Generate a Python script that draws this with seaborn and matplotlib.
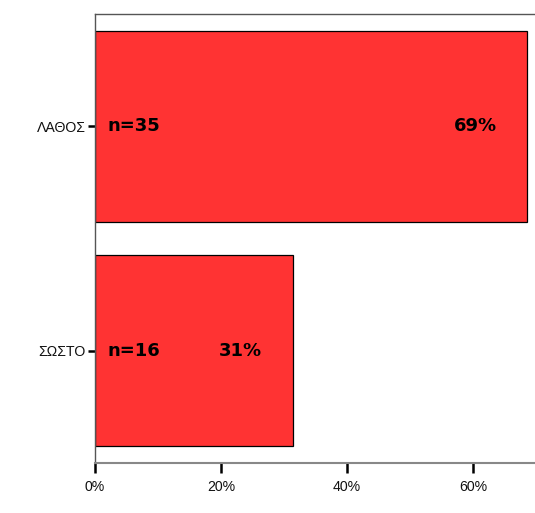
import matplotlib
matplotlib.use("Agg")
import matplotlib.pyplot as plt
import seaborn as sns
import pandas as pd

categories = ["ΛΑΘΟΣ", "ΣΩΣΤΟ"]
counts = [35, 16]
xtick_values = [0, 20, 40, 60]
xtick_labels = ["0%", "20%", "40%", "60%"]

total = sum(counts)
percents = [c / total * 100 for c in counts]
df = pd.DataFrame({"answer": categories, "n": counts, "pct": percents})

sns.set_theme(style="white")
plt.rcParams["font.family"] = ["Liberation Sans", "DejaVu Sans"]

fig = plt.figure(figsize=(5.35, 5.13), dpi=100)
ax = fig.add_axes([95 / 535, 50 / 513, 441 / 535, 449 / 513])

sns.barplot(data=df, y="answer", x="pct", orient="h", ax=ax,
            color="#FF3333", saturation=1, width=0.85,
            edgecolor="black", linewidth=0.9)

ax.set_xlim(0, 70)
ax.set_ylim(1.5, -0.5)
ax.set_xticks(xtick_values)
ax.set_xticklabels(xtick_labels, fontsize=10.2, color="#111111")
ax.tick_params(axis="y", labelsize=10.2, labelcolor="#111111",
               length=5, width=1.8, color="black", left=True, pad=1.5)
ax.tick_params(axis="x", length=7, width=1.8, color="black",
               bottom=True, pad=5)
ax.set_xlabel("")
ax.set_ylabel("")

for side in ["top", "left"]:
    ax.spines[side].set_color("#555555")
    ax.spines[side].set_linewidth(1.0)
ax.spines["bottom"].set_color("#888888")
ax.spines["bottom"].set_linewidth(1.5)
ax.spines["right"].set_visible(False)

for i, (n, p) in enumerate(zip(counts, percents)):
    ax.text(2.0, i, f"n={n}", ha="left", va="center",
            fontsize=13, fontweight="bold", color="black",
            family="DejaVu Sans")
    ax.text(p - 4.8, i, f"{p:.0f}%", ha="right", va="center",
            fontsize=13, fontweight="bold", color="black",
            family="DejaVu Sans")

fig.savefig("out.png", dpi=100)
